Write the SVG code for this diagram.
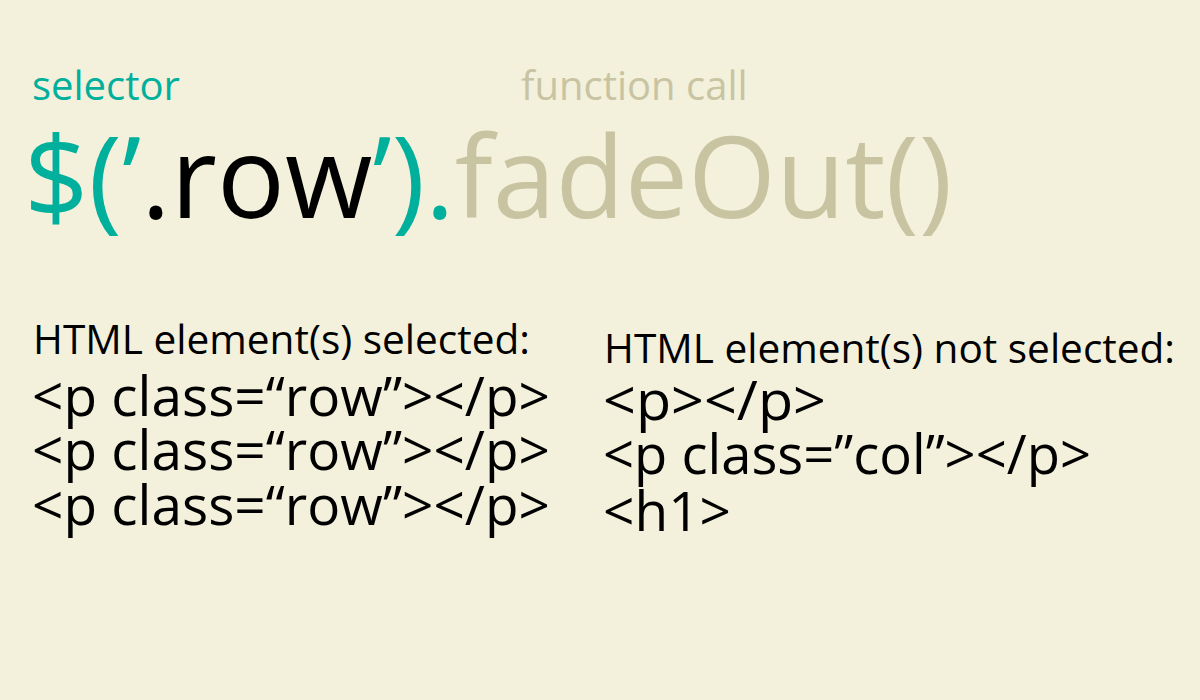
<svg xmlns="http://www.w3.org/2000/svg" width="1200" height="700" viewBox="0 0 1200 700">
<style>
text{font-family:"Open Sans","Noto Sans","DejaVu Sans",sans-serif;}
.teal{fill:#00b09c;}
.tan{fill:#c8c4a1;}
.blk{fill:#000;}
.lbl{font-size:40px;}
.big{font-size:113px;}
.head{font-size:40px;}
.code{font-size:54px;}
</style>
<rect width="1200" height="700" fill="#f3f0dc"/>
<g id="label-selector"><text class="lbl teal" x="32" y="100">selector</text></g>
<g id="label-function"><text class="lbl tan" x="521" y="100">function call</text></g>
<g id="expression"><text class="big" x="24" y="218"><tspan class="teal">$(’</tspan><tspan class="blk">.row</tspan><tspan class="teal">’).</tspan><tspan class="tan">fadeOut()</tspan></text></g>
<g id="selected">
<text class="head blk" x="33" y="354" textLength="497" lengthAdjust="spacingAndGlyphs">HTML element(s) selected:</text>
<text class="code blk" x="32" y="416" textLength="518" lengthAdjust="spacingAndGlyphs">&lt;p class=“row”&gt;&lt;/p&gt;</text>
<text class="code blk" x="32" y="470" textLength="518" lengthAdjust="spacingAndGlyphs">&lt;p class=“row”&gt;&lt;/p&gt;</text>
<text class="code blk" x="32" y="525" textLength="518" lengthAdjust="spacingAndGlyphs">&lt;p class=“row”&gt;&lt;/p&gt;</text>
</g>
<g id="not-selected">
<text class="head blk" x="604" y="363" textLength="571" lengthAdjust="spacingAndGlyphs">HTML element(s) not selected:</text>
<text class="code blk" x="603" y="420" textLength="223" lengthAdjust="spacingAndGlyphs">&lt;p&gt;&lt;/p&gt;</text>
<text class="code blk" x="603" y="474" textLength="488" lengthAdjust="spacingAndGlyphs">&lt;p class=”col”&gt;&lt;/p&gt;</text>
<text class="code blk" x="603" y="531" textLength="128" lengthAdjust="spacingAndGlyphs">&lt;h1&gt;</text>
</g>
</svg>
